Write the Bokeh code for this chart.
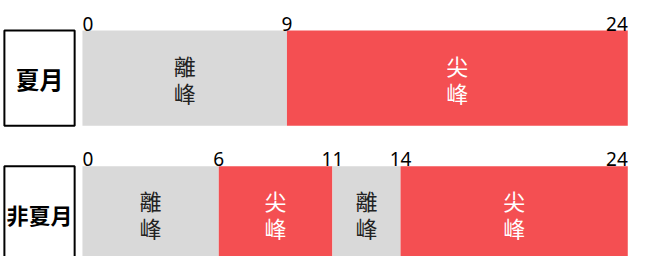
from bokeh.plotting import figure
from bokeh.models import ColumnDataSource, Range1d
from bokeh.core.properties import value
from bokeh.embed import file_html
from bokeh.resources import INLINE

# ---- data ----
categories = ["夏月", "非夏月"]
summer_bounds = [0, 9, 24]
summer_types = ["離峰", "尖峰"]
nonsummer_bounds = [0, 6, 11, 14, 24]
nonsummer_types = ["離峰", "尖峰", "離峰", "尖峰"]

rows_bounds = [summer_bounds, nonsummer_bounds]
rows_types = [summer_types, nonsummer_types]

# ---- styles ----
RED = "#F44F52"
GRAY = "#D9D9D9"
type_fill = {"尖峰": RED, "離峰": GRAY}
type_text = {"尖峰": "#FFFFFF", "離峰": "#222222"}

W, H = 638, 256
sx, sy = W / 654.0, H / 272.0
x0_px, x24_px = 84 * sx, 643 * sx
px_per_hour = (x24_px - x0_px) / 24.0
x_start = -x0_px / px_per_hour
x_end = x_start + W / px_per_hour
row0_px = 82.5 * sy
row_px = 144.0 * sy
y_top = -row0_px / row_px
y_bottom = (H - row0_px) / row_px
bar_h = 101 * sy / row_px

p = figure(width=W, height=H, output_backend="svg", toolbar_location=None,
           x_range=Range1d(x_start, x_end), y_range=Range1d(y_bottom, y_top),
           min_border=0, min_border_left=0, min_border_right=0,
           min_border_top=0, min_border_bottom=0)
p.axis.visible = False
p.grid.visible = False
p.outline_line_color = None
p.background_fill_color = "white"
p.border_fill_color = "white"

# segments
seg = dict(left=[], right=[], row=[], fill=[])
chars = dict(x=[], y=[], t=[], c=[], off=[])
ticks = dict(x=[], y=[], t=[], align=[])
for r, (bounds, types) in enumerate(zip(rows_bounds, rows_types)):
    for i, typ in enumerate(types):
        a, b = bounds[i], bounds[i + 1]
        seg["left"].append(a); seg["right"].append(b); seg["row"].append(r)
        seg["fill"].append(type_fill[typ])
        for k, ch in enumerate(typ):
            chars["x"].append((a + b) / 2); chars["y"].append(r)
            chars["t"].append(ch); chars["c"].append(type_text[typ])
            chars["off"].append(-13.5 + 27 * k)
    for j, bval in enumerate(bounds):
        ticks["x"].append(bval); ticks["y"].append(r - bar_h / 2)
        ticks["t"].append(str(bval))
        ticks["align"].append("left" if j == 0 else ("right" if j == len(bounds) - 1 else "center"))

seg_src = ColumnDataSource(seg)
p.hbar(y="row", left="left", right="right", height=bar_h, fill_color="fill",
       line_color=None, source=seg_src)

char_src = ColumnDataSource(chars)
p.text(x="x", y="y", text="t", text_color="c", y_offset="off", source=char_src,
       text_align="center", text_baseline="middle", text_font_size="22px",
       text_font=value("Noto Sans CJK TC"))

tick_src = ColumnDataSource(ticks)
p.text(x="x", y="y", text="t", text_align="align", source=tick_src,
       text_baseline="bottom", y_offset=0, text_font_size="19px",
       text_font=value("Noto Sans"), text_color="#000000")

# category label boxes
box_cx_px = 40 * sx
box_x = (box_cx_px - x0_px) / px_per_hour
cat_src = ColumnDataSource(dict(x=[box_x] * len(categories), y=list(range(len(categories))),
                                t=categories, fs=["24px", "22px"]))
p.rect(x="x", y="y", width=72 * sx, width_units="screen", height=bar_h, source=cat_src,
       fill_color="white", line_color="black", line_width=2)
p.text(x="x", y="y", text="t", source=cat_src, text_align="center", text_baseline="middle",
       text_font_size="fs", text_font=value("Noto Sans CJK TC"), text_font_style="bold",
       text_color="black")

open("out.html", "w").write(file_html(p, INLINE))
